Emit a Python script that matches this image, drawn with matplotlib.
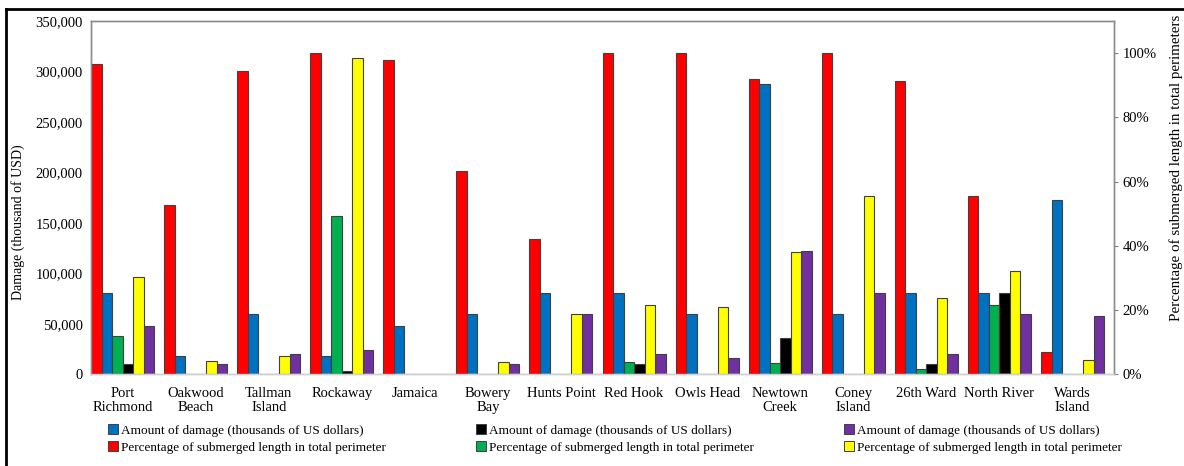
import matplotlib.pyplot as plt
import numpy as np
from matplotlib.lines import Line2D

plt.rcParams['font.family'] = ['Liberation Serif', 'DejaVu Serif']

sites = ['Port\nRichmond', 'Oakwood\nBeach', 'Tallman\nIsland', 'Rockaway',
         'Jamaica', 'Bowery\nBay', 'Hunts Point', 'Red Hook', 'Owls Head',
         'Newtown\nCreek', 'Coney\nIsland', '26th Ward', 'North River',
         'Wards\nIsland']

# damage (thousand USD), left axis
damage_blue = [80000, 18000, 60000, 18000, 48000, 60000, 80000, 80000, 60000,
               288000, 60000, 80000, 80000, 173000]
damage_black = [10000, 0, 0, 3000, 0, 0, 0, 10000, 0, 36000, 0, 10000,
                80000, 0]
damage_purple = [48000, 10000, 20000, 24000, 0, 10000, 60000, 20000, 16000,
                 122000, 80000, 20000, 60000, 58000]

# percentage of submerged length (%), right axis
pct_red = [96.5, 52.8, 94.3, 100, 98, 63.2, 42.1, 100, 100, 92, 100, 91.2,
           55.6, 6.9]
pct_green = [12, 0, 0, 49.3, 0, 0, 0, 3.8, 0, 3.5, 0, 1.6, 21.4, 0]
pct_yellow = [30.2, 4.2, 5.7, 98.4, 0, 3.8, 18.9, 21.7, 21, 38, 55.6, 23.6,
              32, 4.4]

dmg_label = 'Amount of damage (thousands of US dollars)'
pct_label = 'Percentage of submerged length in total perimeter'

c_red = '#FF0000'
c_blue = '#0070C0'
c_green = '#00B050'
c_black = '#000000'
c_yellow = '#FFFF00'
c_purple = '#7030A0'

fig = plt.figure(figsize=(11.84, 4.66), dpi=100)
ax = fig.add_axes([0.0769, 0.197, 0.8640, 0.758])
ax2 = ax.twinx()

x = np.arange(len(sites))
bw = 0.1437
edge = dict(edgecolor='#404040', linewidth=0.8)

ax2.bar(x - 2.5 * bw, pct_red, bw, color=c_red, **edge)
ax.bar(x - 1.5 * bw, damage_blue, bw, color=c_blue, **edge)
ax2.bar(x - 0.5 * bw, pct_green, bw, color=c_green, **edge)
ax.bar(x + 0.5 * bw, damage_black, bw, color=c_black, **edge)
ax2.bar(x + 1.5 * bw, pct_yellow, bw, color=c_yellow, **edge)
ax.bar(x + 2.5 * bw, damage_purple, bw, color=c_purple, **edge)

ax.set_xlim(-3 * bw, len(sites) - 1 + 3 * bw + 0.137)
ax.set_ylim(0, 350000)
ax2.set_ylim(0, 110)

ax.set_yticks(np.arange(0, 350001, 50000))
ax.set_yticklabels([f'{v:,}' for v in range(0, 350001, 50000)], fontsize=10.5)
ax.tick_params(axis='y', length=0, pad=6)
ax.set_xticks(x)
ax.set_xticklabels(sites, fontsize=10.5, linespacing=1.15)
ax.tick_params(axis='x', length=0, pad=9)
ax.set_ylabel('Damage (thousand of USD)', fontsize=10)
ax.yaxis.set_label_coords(-0.0645, 0.43)

ax2.set_yticks(np.arange(0, 101, 20))
ax2.set_yticklabels([f'{v}%' for v in range(0, 101, 20)], fontsize=10.5)
ax2.tick_params(axis='y', length=3, width=0.8, color='#808080', pad=3)
ax2.set_ylabel('Percentage of submerged length in total perimeters',
               fontsize=10.8)
ax2.yaxis.set_label_coords(1.0535, 0.584)

for a in (ax, ax2):
    for s in a.spines.values():
        s.set_color('#8c8c8c')
        s.set_linewidth(1.0)
    a.spines['bottom'].set_color('#d0d0d0')

handles = []
for col, lab in [(c_blue, dmg_label), (c_red, pct_label),
                 (c_black, dmg_label), (c_green, pct_label),
                 (c_purple, dmg_label), (c_yellow, pct_label)]:
    handles.append(Line2D([], [], marker='s', linestyle='none',
                          markerfacecolor=col, markeredgecolor='#404040',
                          markeredgewidth=0.7, markersize=7, label=lab))
fig.legend(handles=handles, ncol=3, loc='lower left',
           bbox_to_anchor=(0.088, 0.015), frameon=False, fontsize=9.5,
           handlelength=0.6, handletextpad=0.3, columnspacing=6.9,
           labelspacing=0.35, borderaxespad=0)

# figure border lines (left and top)
fig.add_artist(Line2D([6 / 1184, 6 / 1184], [0, 1 - 9 / 466],
                      transform=fig.transFigure, color='black', linewidth=2))
fig.add_artist(Line2D([6 / 1184, 1], [1 - 9 / 466, 1 - 9 / 466],
                      transform=fig.transFigure, color='black', linewidth=2))

fig.savefig('out.png', dpi=100)
